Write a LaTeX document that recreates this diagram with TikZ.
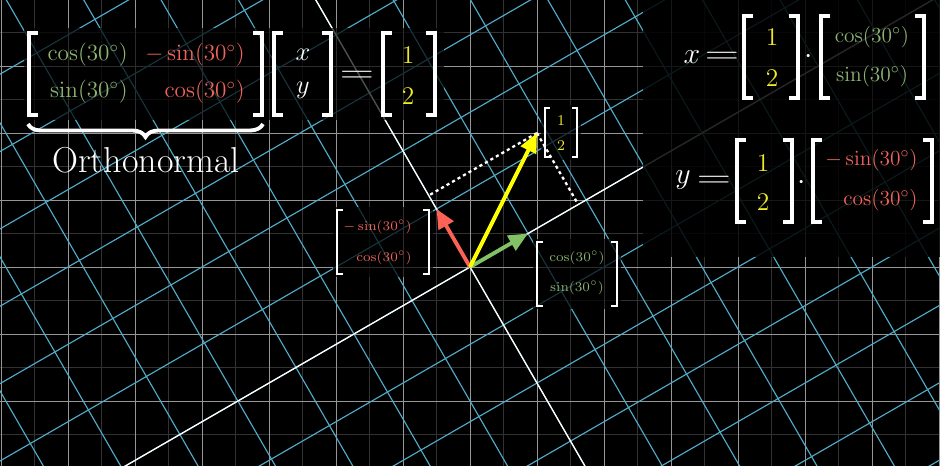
\RequirePackage{fix-cm}
\documentclass[tikz,border=0pt]{standalone}
\usepackage{graphicx}
\usetikzlibrary{arrows.meta,decorations.pathreplacing}
\definecolor{bgmajor}{RGB}{150,150,150}
\definecolor{bgminor}{RGB}{50,50,50}
\definecolor{gridblue}{RGB}{80,172,200}
\definecolor{vyellow}{RGB}{255,255,0}
\definecolor{vgreen}{RGB}{131,193,103}
\definecolor{vred}{RGB}{252,98,85}
\definecolor{tgreen}{RGB}{140,180,115}
\definecolor{tred}{RGB}{240,100,90}
\definecolor{tyellow}{RGB}{240,235,40}
\newcommand{\mtxbr}[6]{%
  \draw[#1] ({#2+#6},#4) -- (#2,#4) -- (#2,#5) -- ({#2+#6},#5);
  \draw[#1] ({#3-#6},#4) -- (#3,#4) -- (#3,#5) -- ({#3-#6},#5);}
\newcommand{\wideeq}{\scalebox{1.5}[1]{$=$}}
\begin{document}
\begin{tikzpicture}[x=0.02cm,y=-0.02cm,
  major/.style={draw=bgmajor,line width=0.55pt},
  minor/.style={draw=bgminor,line width=0.45pt},
  bgrid/.style={draw=gridblue,line width=0.65pt},
  axisline/.style={draw=white,line width=0.75pt},
  dimbox/.style={fill=black,fill opacity=0.85,draw=none},
  lbox/.style={fill=black,fill opacity=0.7,draw=none},
  brk/.style={draw=white,line width=2pt,line cap=butt,line join=miter},
  sbrk/.style={draw=white,line width=1.1pt,line cap=butt,line join=miter},
  vec/.style={line width=2.2pt,-{Triangle[length=11pt,width=9.5pt]}},
  proj/.style={draw=white,line width=1.3pt,dash pattern=on 1.8pt off 1.8pt},
  ent/.style={inner sep=0pt,font=\fontsize{13.2}{15}\selectfont},
  rent/.style={inner sep=0pt,font=\fontsize{12.2}{14}\selectfont},
  sent/.style={inner sep=0pt,font=\fontsize{7.6}{9}\selectfont},
  dig/.style={inner sep=0pt,text=tyellow,font=\fontsize{14.5}{16}\selectfont},
  sdig/.style={inner sep=0pt,text=tyellow,font=\fontsize{8.5}{10}\selectfont},
  var/.style={inner sep=0pt,text=white,font=\fontsize{15}{18}\selectfont},
  rvar/.style={inner sep=0pt,text=white,font=\fontsize{17}{20}\selectfont},
  eqs/.style={inner sep=0pt,text=white,font=\fontsize{18}{20}\selectfont},
]
\fill[black] (0,0) rectangle (940,466);
\useasboundingbox (0,0) rectangle (940,466);
\begin{scope}
\clip (0,0) rectangle (940,466);
\foreach \k in {-15,...,15} {\draw[minor] ({470+\k*33.5},0) -- ({470+\k*33.5},466);}
\foreach \k in {-9,...,9} {\draw[minor] (0,{267+\k*33.5}) -- (940,{267+\k*33.5});}
\foreach \k in {-8,...,8} {\draw[major] ({470+\k*67},0) -- ({470+\k*67},466);}
\foreach \k in {-4,...,4} {\draw[major] (0,{267+\k*67}) -- (940,{267+\k*67});}
\begin{scope}[shift={(470,267)},rotate=30]
\foreach \k in {-14,...,14} {\draw[bgrid] ({\k*67},-1200) -- ({\k*67},1200);
  \draw[bgrid] (-1200,{\k*67}) -- (1200,{\k*67});}
\draw[axisline] (-1200,0) -- (1200,0);
\draw[axisline] (0,-1200) -- (0,1200);
\end{scope}
\end{scope}
% dimming panels
\fill[lbox] (24,28) rectangle (444,120);
\fill[dimbox] (643,0) rectangle (940,257);
\fill[lbox] (541,105) rectangle (581,160);
\fill[lbox] (333,207) rectangle (433,277);
\fill[lbox] (533,239) rectangle (621,309);
% vectors
\coordinate (O) at (470,267);
\coordinate (Y) at (537,133);
\coordinate (G) at (528.02,233.5);
\coordinate (R) at (436.5,208.98);
\coordinate (Pj) at (428.73,195.51);
\coordinate (Pi) at (578.27,204.49);
\draw[proj] (Y) -- (Pj);
\draw[proj] (Y) -- (Pi);
\draw[vec,vred] (O) -- (R);
\draw[vec,vgreen] (O) -- (G);
\draw[vec,vyellow] (O) -- (Y);
% left equation
\mtxbr{brk}{29}{262}{33}{115}{9}
\node[ent,anchor=east,text=tgreen] (a11) at (128,55) {$\cos(30^\circ)$};
\node[ent,anchor=east,text=tgreen] (a21) at (128,92) {$\sin(30^\circ)$};
\node[ent,anchor=east,text=tred] (a12) at (245,55) {$-\sin(30^\circ)$};
\node[ent,anchor=east,text=tred] (a22) at (245,92) {$\cos(30^\circ)$};
\mtxbr{brk}{274}{331}{33}{115}{9}
\node[var] (vx) at (303,55) {$x$};
\node[var] (vy) at (303,90) {$y$};
\node[eqs] (eq1) at (357,77) {\wideeq};
\mtxbr{brk}{383}{435}{33}{115}{9}
\node[dig] (b1) at (408,55) {$1$};
\node[dig] (b2) at (408,96) {$2$};
\draw[white,line width=2.2pt,decoration={brace,mirror,amplitude=0.26cm},decorate] (28,124) -- (263,124);
\node[inner sep=0pt,text=white,font=\fontsize{20.5}{24}\selectfont] (orth) at (146,160) {Orthonormal};
% right equations
\node[rvar] (rx) at (692,57) {$x$};
\node[eqs] (eq2) at (722,58) {\wideeq};
\mtxbr{brk}{744}{798}{16}{98}{9}
\node[dig] (c1) at (772,37) {$1$};
\node[dig] (c2) at (772,78) {$2$};
\node[rvar] (dot1) at (809,57) {$\cdot$};
\mtxbr{brk}{821}{924}{16}{98}{9}
\node[rent,text=tgreen] (d1) at (872,37) {$\cos(30^\circ)$};
\node[rent,text=tgreen] (d2) at (872,76) {$\sin(30^\circ)$};
\node[rvar] (ry) at (683,180) {$y$};
\node[eqs] (eq3) at (714,182) {\wideeq};
\mtxbr{brk}{737}{792}{140}{222}{9}
\node[dig] (e1) at (763,163) {$1$};
\node[dig] (e2) at (763,202) {$2$};
\node[rvar] (dot2) at (802,183) {$\cdot$};
\mtxbr{brk}{813}{932}{140}{222}{9}
\node[rent,anchor=east,text=tred] (f1) at (918,160) {$-\sin(30^\circ)$};
\node[rent,anchor=east,text=tred] (f2) at (918,200) {$\cos(30^\circ)$};
% small labels
\mtxbr{sbrk}{545}{577}{108}{157}{5}
\node[sdig] (s1) at (561,121) {$1$};
\node[sdig] (s2) at (561,146) {$2$};
\mtxbr{sbrk}{337}{429}{210}{274}{6}
\node[sent,anchor=east,text=tred] (t1) at (412,227) {$-\sin(30^\circ)$};
\node[sent,anchor=east,text=tred] (t2) at (412,258) {$\cos(30^\circ)$};
\mtxbr{sbrk}{537}{617}{242}{306}{6}
\node[sent,text=tgreen] (u1) at (577,258) {$\cos(30^\circ)$};
\node[sent,text=tgreen] (u2) at (577,288) {$\sin(30^\circ)$};
\end{tikzpicture}
\end{document}
